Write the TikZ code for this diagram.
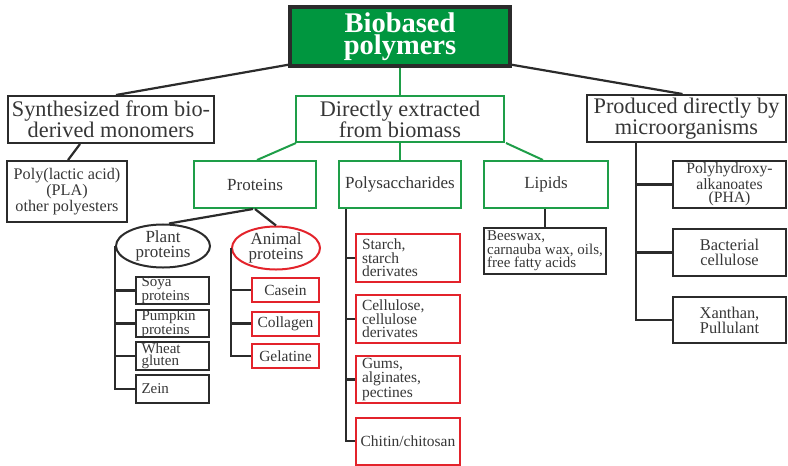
\documentclass[tikz,border=0pt]{standalone}
\usepackage{fontspec}
\setmainfont{Liberation Serif}
\usetikzlibrary{shapes.geometric}
\definecolor{gfill}{HTML}{00963F}
\definecolor{gline}{HTML}{1E9E48}
\definecolor{rline}{HTML}{E3232B}
\definecolor{dk}{HTML}{2B2B2B}
\definecolor{txt}{HTML}{363636}
\tikzset{
  box/.style={draw=dk, line width=2pt, rectangle, inner sep=0pt, text=txt, align=center},
  gbox/.style={box, draw=gline},
  rbox/.style={box, draw=rline},
  big/.style={font=\fontsize{22.3}{21}\selectfont},
  mid/.style={font=\fontsize{17}{17}\selectfont},
  small/.style={font=\fontsize{16.2}{14.5}\selectfont},
  tight/.style={align=left, font=\fontsize{15}{12.5}\selectfont},
  leftsm/.style={align=left, font=\fontsize{15.5}{13.5}\selectfont},
  ell/.style={ellipse, line width=2pt, inner sep=0pt, text=txt, align=center, font=\fontsize{17}{15}\selectfont},
  conn/.style={draw=dk, line width=2.2pt},
  gconn/.style={draw=gline, line width=2pt},
}
\begin{document}
\begin{tikzpicture}[x=1pt,y=-1pt]
\useasboundingbox (0,0) rectangle (788,466);
% top
\node[box, fill=gfill, line width=3.5pt, minimum width=220pt, minimum height=59pt, text=white,
  font=\fontsize{28.5}{22.5}\selectfont\bfseries] (top) at (400,36.5) {Biobased\\polymers};
% level 1
\node[box, big, minimum width=206pt, minimum height=47pt] (syn) at (111,119.5) {Synthesized from bio-\\derived monomers};
\node[gbox, big, minimum width=208pt, minimum height=46pt] (dir) at (400,119) {Directly extracted\\from biomass};
\node[box, big, minimum width=199pt, minimum height=47pt] (prod) at (686.5,118.5) {Produced directly by\\microorganisms};
% level 2
\node[box, small, minimum width=120pt, minimum height=61pt] (pla) at (67,191.5) {Poly(lactic acid)\\(PLA)\\other polyesters};
\node[gbox, mid, minimum width=122pt, minimum height=47pt] (prot) at (255,184.5) {Proteins};
\node[gbox, mid, minimum width=122pt, minimum height=47pt] (poly) at (400,184.5) {Polysaccharides};
\node[gbox, mid, minimum width=124pt, minimum height=47pt] (lip) at (546,184.5) {Lipids};
\node[box, font=\fontsize{15.7}{13.5}\selectfont, minimum width=113pt, minimum height=47pt] (pha) at (729.5,184.5) {Polyhydroxy-\\alkanoates\\(PHA)};
\node[box, font=\fontsize{16.4}{15}\selectfont, minimum width=113pt, minimum height=47pt] (bac) at (729.5,252.5) {Bacterial\\cellulose};
\node[box, font=\fontsize{16.4}{15}\selectfont, minimum width=113pt, minimum height=46pt] (xan) at (729.5,320) {Xanthan,\\Pullulant};
% lipids child
\node[box, align=left, font=\fontsize{15}{13.5}\selectfont, minimum width=122pt, minimum height=46pt] (bees) at (545,251) {Beeswax,\\carnauba wax, oils,\\free fatty acids};
% proteins children
\node[ell, draw=dk, minimum width=94pt, minimum height=32pt] (plant) at (163,246) {Plant\\proteins};
\node[ell, draw=rline, minimum width=88pt, minimum height=36pt] (animal) at (276,248) {Animal\\proteins};
\node[box, tight, minimum width=73pt, minimum height=27pt, text width=62pt] (soya) at (172.5,290.5) {Soya\\proteins};
\node[box, tight, minimum width=73pt, minimum height=27pt, text width=62pt] (pump) at (172.5,323.5) {Pumpkin\\proteins};
\node[box, tight, minimum width=73pt, minimum height=28pt, text width=62pt] (wheat) at (172.5,356) {Wheat\\gluten};
\node[box, tight, minimum width=73pt, minimum height=28pt, text width=62pt] (zein) at (172.5,389) {Zein};
\node[rbox, font=\fontsize{15.5}{15}\selectfont, minimum width=67pt, minimum height=24pt] (casein) at (285.5,290) {Casein};
\node[rbox, font=\fontsize{15.5}{15}\selectfont, minimum width=67pt, minimum height=24pt] (coll) at (285.5,323.5) {Collagen};
\node[rbox, font=\fontsize{15.5}{15}\selectfont, minimum width=67pt, minimum height=24pt] (gel) at (285.5,356) {Gelatine};
% polysaccharide children
\node[rbox, leftsm, minimum width=104pt, minimum height=48pt, text width=92pt] (starch) at (408,258) {Starch,\\starch\\derivates};
\node[rbox, leftsm, minimum width=104pt, minimum height=48pt, text width=92pt] (cell) at (408,319) {Cellulose,\\cellulose\\derivates};
\node[rbox, leftsm, minimum width=104pt, minimum height=47pt, text width=92pt] (gums) at (408,379.5) {Gums,\\alginates,\\pectines};
\node[rbox, font=\fontsize{15.5}{13}\selectfont, minimum width=104pt, minimum height=47pt] (chit) at (408,441) {Chitin/chitosan};
% connectors
\draw[conn] ([yshift=3pt]top.south west) -- ([xshift=5pt]syn.north);
\draw[conn] ([yshift=3pt]top.south east) -- ([xshift=-4pt]prod.north);
\draw[gconn] (top.south) -- (dir.north);
\draw[conn] ([xshift=-31pt]syn.south) -- ([xshift=1pt]pla.north);
\draw[gconn] ([xshift=1pt]dir.south west) -- ([xshift=2pt]prot.north);
\draw[gconn] (dir.south) -- (poly.north);
\draw[gconn] ([xshift=1pt]dir.south east) -- ([xshift=-3pt]lip.north);
\draw[conn] ([xshift=-1pt]lip.south) -- (bees.north);
\draw[conn] ([xshift=-2pt]prot.south) -- ([xshift=6pt]plant.north);
\draw[conn] ([xshift=0pt]prot.south) -- (animal.north);
% plant tree
\draw[conn] (plant.west) |- (zein.west);
\draw[conn] (plant.west |- soya.west) -- (soya.west);
\draw[conn] (plant.west |- pump.west) -- (pump.west);
\draw[conn] (plant.west |- wheat.west) -- (wheat.west);
% animal tree
\draw[conn] (animal.west) |- (gel.west);
\draw[conn] (animal.west |- casein.west) -- (casein.west);
\draw[conn] (animal.west |- coll.west) -- (coll.west);
% polysaccharide tree
\coordinate (pv) at ([xshift=8pt]poly.south west);
\draw[conn] (pv) |- (chit.west);
\draw[conn] (pv |- starch.west) -- (starch.west);
\draw[conn] (pv |- cell.west) -- (cell.west);
\draw[conn] (pv |- gums.west) -- (gums.west);
% microorganism tree
\coordinate (rv) at ([xshift=50pt]prod.south west);
\draw[conn] (rv) |- (xan.west);
\draw[conn] (rv |- pha.west) -- (pha.west);
\draw[conn] (rv |- bac.west) -- (bac.west);
\end{tikzpicture}
\end{document}
